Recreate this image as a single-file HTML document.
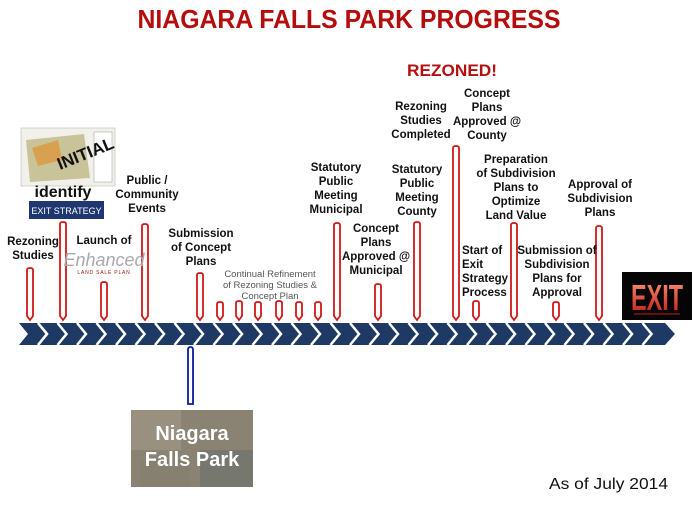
<!DOCTYPE html>
<html><head><meta charset="utf-8"><style>
html,body{margin:0;padding:0;background:#fff;}
svg{display:block;}
text{font-family:"Liberation Sans",sans-serif;}
.l{font-size:11.5px;font-weight:bold;fill:#111;text-anchor:middle;}
</style></head><body>
<svg width="698" height="511" viewBox="0 0 698 511" xmlns="http://www.w3.org/2000/svg">
<defs>
<linearGradient id="ex" x1="0" y1="0" x2="0" y2="1"><stop offset="0" stop-color="#ff9a7a"/><stop offset="1" stop-color="#c01010"/></linearGradient>
</defs>
<!-- title -->
<text x="349" y="28" text-anchor="middle" font-size="26" font-weight="bold" fill="#b50d0d" textLength="423" lengthAdjust="spacingAndGlyphs">NIAGARA FALLS PARK PROGRESS</text>
<text x="452" y="76" text-anchor="middle" font-size="17" font-weight="bold" fill="#b51010" textLength="90" lengthAdjust="spacingAndGlyphs">REZONED!</text>

<!-- band -->
<polygon points="19,323 665,323 675,334 665,345 19,345 28,334" fill="#1e3a64"/>
<g fill="none" stroke="#fff" stroke-width="2.5">
<path id="c" d="M38,323 L47,334 L38,345"/>
</g>
<g fill="none" stroke="#fff" stroke-width="2.5">
<path d="M38,323L47,334L38,345M57.5,323L66.5,334L57.5,345M77,323L86,334L77,345M96.5,323L105.5,334L96.5,345M116,323L125,334L116,345M135.5,323L144.5,334L135.5,345M155,323L164,334L155,345M174.5,323L183.5,334L174.5,345M194,323L203,334L194,345M213.5,323L222.5,334L213.5,345M233,323L242,334L233,345M252.5,323L261.5,334L252.5,345M272,323L281,334L272,345M291.5,323L300.5,334L291.5,345M311,323L320,334L311,345M330.5,323L339.5,334L330.5,345M350,323L359,334L350,345M369.5,323L378.5,334L369.5,345M389,323L398,334L389,345M408.5,323L417.5,334L408.5,345M428,323L437,334L428,345M447.5,323L456.5,334L447.5,345M467,323L476,334L467,345M486.5,323L495.5,334L486.5,345M506,323L515,334L506,345M525.5,323L534.5,334L525.5,345M545,323L554,334L545,345M564.5,323L573.5,334L564.5,345M584,323L593,334L584,345M603.5,323L612.5,334L603.5,345M623,323L632,334L623,345M642.5,323L651.5,334L642.5,345"/>
</g>

<!-- markers -->
<g fill="#fff" stroke="#d01818" stroke-width="1.8">
<path d="M27,270 Q27,268 30,268 Q33,268 33,270 L33,316 L30,320 L27,316Z"/>
<path d="M60,224 Q60,222 63,222 Q66,222 66,224 L66,316 L63,320 L60,316Z"/>
<path d="M101,284 Q101,282 104,282 Q107,282 107,284 L107,316 L104,320 L101,316Z"/>
<path d="M142,226 Q142,224 145,224 Q148,224 148,226 L148,316 L145,320 L142,316Z"/>
<path d="M197,275 Q197,273 200,273 Q203,273 203,275 L203,316 L200,320 L197,316Z"/>
<path d="M217,304 Q217,302 220,302 Q223,302 223,304 L223,316 L220,320 L217,316Z"/>
<path d="M236,303 Q236,301 239,301 Q242,301 242,303 L242,316 L239,320 L236,316Z"/>
<path d="M255,304 Q255,302 258,302 Q261,302 261,304 L261,316 L258,320 L255,316Z"/>
<path d="M276,303 Q276,301 279,301 Q282,301 282,303 L282,316 L279,320 L276,316Z"/>
<path d="M296,304 Q296,302 299,302 Q302,302 302,304 L302,316 L299,320 L296,316Z"/>
<path d="M315,304 Q315,302 318,302 Q321,302 321,304 L321,316 L318,320 L315,316Z"/>
<path d="M334,225 Q334,223 337,223 Q340,223 340,225 L340,316 L337,320 L334,316Z"/>
<path d="M375,286 Q375,284 378,284 Q381,284 381,286 L381,316 L378,320 L375,316Z"/>
<path d="M414,224 Q414,222 417,222 Q420,222 420,224 L420,316 L417,320 L414,316Z"/>
<path d="M453,148 Q453,146 456,146 Q459,146 459,148 L459,316 L456,320 L453,316Z"/>
<path d="M473,303 Q473,301 476,301 Q479,301 479,303 L479,316 L476,320 L473,316Z"/>
<path d="M511,225 Q511,223 514,223 Q517,223 517,225 L517,316 L514,320 L511,316Z"/>
<path d="M553,304 Q553,302 556,302 Q559,302 559,304 L559,316 L556,320 L553,316Z"/>
<path d="M596,228 Q596,226 599,226 Q602,226 602,228 L602,316 L599,320 L596,316Z"/>
</g>
<path d="M188,350 Q188,347 190.5,347 Q193,347 193,350 L193,404 L188,404Z" fill="#fff" stroke="#0a1aa8" stroke-width="1.8"/>

<!-- initial image -->
<rect x="21" y="128" width="94" height="58" fill="#f2f0ea" stroke="#bbb" stroke-width="0.6"/>
<polygon points="26,140 84,134 90,178 30,182" fill="#c9c39a"/>
<polygon points="32,148 58,140 62,160 38,166" fill="#d9a050"/>
<rect x="94" y="132" width="18" height="50" fill="#fff" stroke="#999" stroke-width="0.5"/>
<text x="60" y="170" font-size="17" font-weight="bold" fill="#111" transform="rotate(-22 60 170)">INITIAL</text>
<text x="63" y="197" text-anchor="middle" font-size="16" font-weight="bold" fill="#111">identify</text>
<rect x="29" y="201" width="75" height="18" fill="#1e3770"/>
<text x="66.5" y="214" text-anchor="middle" font-size="9" fill="#fff">EXIT  STRATEGY</text>

<!-- enhanced -->
<text x="104" y="266" text-anchor="middle" font-family="Liberation Serif,serif" font-style="italic" font-size="18" fill="#aaa">Enhanced</text>
<text x="104" y="274" text-anchor="middle" font-size="5" fill="#a01818" letter-spacing="0.8">LAND SALE PLAN</text>

<!-- labels -->
<text class="l" x="33" y="245">Rezoning</text><text class="l" x="33" y="259">Studies</text>
<text class="l" x="104" y="244">Launch of</text>
<text class="l" x="147" y="184">Public /</text><text class="l" x="147" y="198">Community</text><text class="l" x="147" y="212">Events</text>
<text class="l" x="201" y="237">Submission</text><text class="l" x="201" y="251">of Concept</text><text class="l" x="201" y="265">Plans</text>
<g font-size="9.5" fill="#555" text-anchor="middle"><text x="270" y="277">Continual Refinement</text><text x="270" y="288">of Rezoning Studies &amp;</text><text x="270" y="299">Concept Plan</text></g>
<text class="l" x="336" y="171">Statutory</text><text class="l" x="336" y="185">Public</text><text class="l" x="336" y="199">Meeting</text><text class="l" x="336" y="213">Municipal</text>
<text class="l" x="376" y="232">Concept</text><text class="l" x="376" y="246">Plans</text><text class="l" x="376" y="260">Approved @</text><text class="l" x="376" y="274">Municipal</text>
<text class="l" x="417" y="173">Statutory</text><text class="l" x="417" y="187">Public</text><text class="l" x="417" y="201">Meeting</text><text class="l" x="417" y="215">County</text>
<text class="l" x="421" y="110">Rezoning</text><text class="l" x="421" y="124">Studies</text><text class="l" x="421" y="138">Completed</text>
<text class="l" x="487" y="97">Concept</text><text class="l" x="487" y="111">Plans</text><text class="l" x="487" y="125">Approved @</text><text class="l" x="487" y="139">County</text>
<text class="l" x="516" y="163">Preparation</text><text class="l" x="516" y="177">of Subdivision</text><text class="l" x="516" y="191">Plans to</text><text class="l" x="516" y="205">Optimize</text><text class="l" x="516" y="219">Land Value</text>
<text class="l" x="600" y="188">Approval of</text><text class="l" x="600" y="202">Subdivision</text><text class="l" x="600" y="216">Plans</text>
<g font-size="11.5" font-weight="bold" fill="#111"><text x="462" y="254">Start of</text><text x="462" y="268">Exit</text><text x="462" y="282">Strategy</text><text x="462" y="296">Process</text></g>
<text class="l" x="557" y="254">Submission of</text><text class="l" x="557" y="268">Subdivision</text><text class="l" x="557" y="282">Plans for</text><text class="l" x="557" y="296">Approval</text>

<!-- exit sign -->
<rect x="622" y="272" width="70" height="48" fill="#050505"/>
<text x="657" y="310" text-anchor="middle" font-size="36" font-weight="bold" fill="url(#ex)" textLength="52" lengthAdjust="spacingAndGlyphs">EXIT</text>
<line x1="634" y1="314" x2="680" y2="314" stroke="#c02020" stroke-width="1"/>

<!-- niagara falls park -->
<rect x="131" y="410" width="122" height="77" fill="#8a8272"/>
<rect x="131" y="410" width="50" height="40" fill="#9a9080"/>
<rect x="200" y="450" width="53" height="37" fill="#76776e"/>
<rect x="140" y="460" width="50" height="27" fill="#85806f"/>
<text x="192" y="440" text-anchor="middle" font-size="20" font-weight="bold" fill="#fff">Niagara</text>
<text x="192" y="466" text-anchor="middle" font-size="20" font-weight="bold" fill="#fff">Falls Park</text>

<text x="549" y="489" font-size="16" fill="#111" textLength="119" lengthAdjust="spacingAndGlyphs">As of July 2014</text>
</svg>
</body></html>
